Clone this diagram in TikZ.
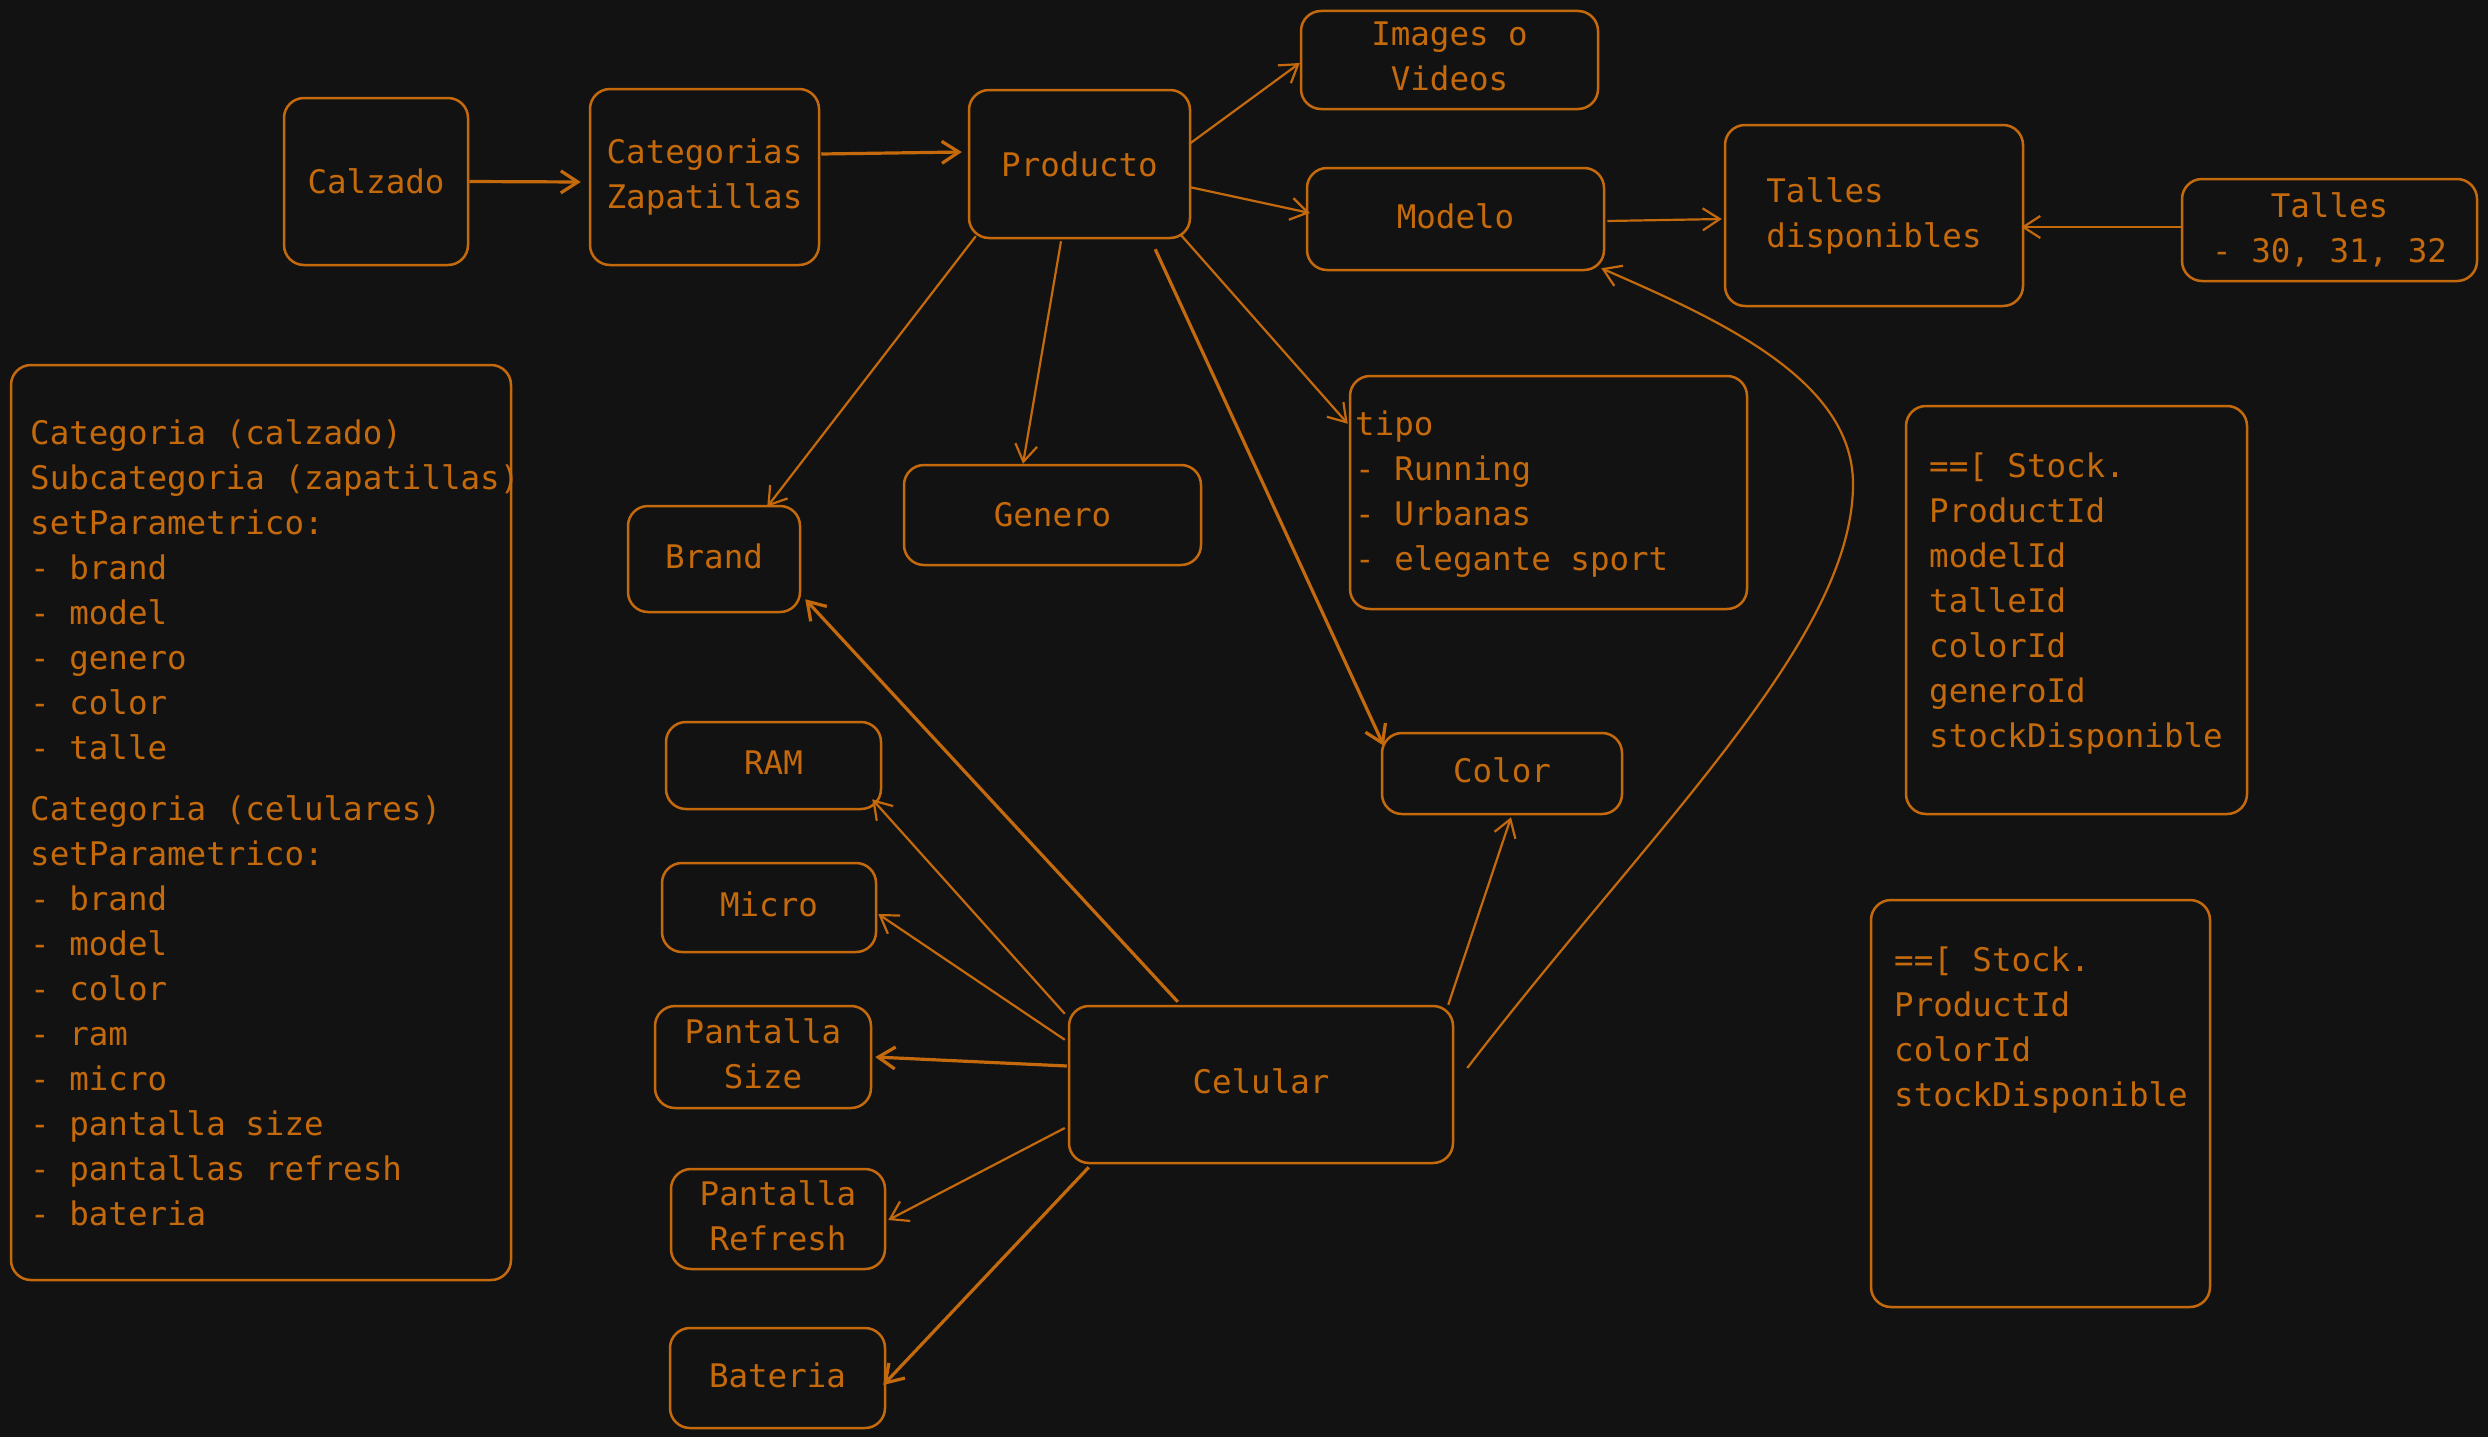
\documentclass[tikz,border=0pt]{standalone}
\usepackage{fontspec}
\newfontfamily\handfont{DejaVu Sans Mono}
\usetikzlibrary{arrows.meta}
\definecolor{bg}{HTML}{121212}
\definecolor{org}{HTML}{C46A0C}
\begin{document}
\begin{tikzpicture}[x=1pt,y=-1pt,
  every node/.style={text=org, font=\handfont\fontsize{32.5}{45}\selectfont},
  box/.style={draw=org, line width=2.5pt, rounded corners=20pt, inner sep=0pt, align=center},
  one/.style={text height=24pt, text depth=6pt},
  lowtail/.style={text depth=7pt},
  txt/.style={anchor=west, inner sep=0pt, align=left},
  conn/.style={draw=org, line width=2.2pt, -{Straight Barb[length=17pt,width=22pt]}},
  heavy/.style={conn, line width=3.2pt}]
\fill[bg] (0,0) rectangle (2488,1437);
\useasboundingbox (0,0) rectangle (2488,1437);

% boxes
\node[box, minimum width=184pt, minimum height=167pt] (calzado) at (376,181.5) {Calzado};
\node[box, minimum width=229pt, minimum height=176pt] (categ) at (704.5,177) {Categorias\\Zapatillas};
\node[box, minimum width=221pt, minimum height=148pt] (producto) at (1079.5,164) {Producto};
\node[box, lowtail, minimum width=297pt, minimum height=98pt] (images) at (1449.5,60) {Images o\\Videos};
\node[box, one, minimum width=297pt, minimum height=102pt] (modelo) at (1455.5,219) {Modelo};
\node[box, minimum width=298pt, minimum height=181pt, align=left] (tallesdisp) at (1874,215.5) {Talles\\disponibles};
\node[box, minimum width=295pt, minimum height=102pt] (tallesnum) at (2329.5,230) {Talles\\- 30, 31, 32};
\node[box, minimum width=500pt, minimum height=915pt] (panel) at (261,822.5) {};
\node[box, minimum width=397pt, minimum height=233pt] (tipo) at (1548.5,492.5) {};
\node[box, minimum width=297pt, minimum height=100pt] (genero) at (1052.5,515) {Genero};
\node[box, one, minimum width=172pt, minimum height=106pt] (brand) at (714,559) {Brand};
\node[box, minimum width=341pt, minimum height=408pt] (stockA) at (2076.5,610) {};
\node[box, minimum width=339pt, minimum height=407pt] (stockB) at (2040.5,1103.5) {};
\node[box, one, minimum width=240pt, minimum height=81pt] (color) at (1502,773.5) {Color};
\node[box, one, minimum width=215pt, minimum height=87pt] (ram) at (773.5,765.5) {RAM};
\node[box, one, minimum width=214pt, minimum height=89pt] (micro) at (769,907.5) {Micro};
\node[box, lowtail, minimum width=216pt, minimum height=102pt] (psize) at (763,1057) {Pantalla\\Size};
\node[box, one, minimum width=384pt, minimum height=157pt] (celular) at (1261,1084.5) {Celular};
\node[box, lowtail, minimum width=214pt, minimum height=100pt] (prefresh) at (778,1219) {Pantalla\\Refresh};
\node[box, one, minimum width=215pt, minimum height=100pt] (bateria) at (777.5,1378) {Bateria};

% texts inside large boxes
\node[txt] (panelA) at (30,589.5) {Categoria (calzado)\\Subcategoria (zapatillas)\\setParametrico:\\- brand\\- model\\- genero\\- color\\- talle};
\node[txt] (panelB) at (30,1011) {Categoria (celulares)\\setParametrico:\\- brand\\- model\\- color\\- ram\\- micro\\- pantalla size\\- pantallas refresh\\- bateria};
\node[txt] (tipotxt) at (1355,494.5) {tipo\\- Running\\- Urbanas\\- elegante sport};
\node[txt] (stockAtxt) at (1929,604) {==[ Stock.\\ProductId\\modelId\\talleId\\colorId\\generoId\\stockDisponible};
\node[txt] (stockBtxt) at (1894,1030.5) {==[ Stock.\\ProductId\\colorId\\stockDisponible};

% connectors
\draw[heavy] (calzado.east) -- ([shift={(-8,5)}]categ.west);
\draw[heavy] ([shift={(1,-23)}]categ.east) -- ([shift={(-6,-12)}]producto.west);
\draw[conn] ([shift={(-2,-20)}]producto.east) -- ([shift={(0,3)}]images.west);
\draw[conn] ([shift={(-2,23)}]producto.east) -- ([shift={(4,-6)}]modelo.west);
\draw[conn] ([shift={(8,-3)}]producto.south west) -- ([shift={(-34,2)}]brand.north east);
\draw[conn] ([shift={(-18.5,2)}]producto.south) -- ([shift={(-29.5,0)}]genero.north);
\draw[conn] ([shift={(-11,-5)}]producto.south east) -- ([shift={(-1,49)}]tipo.north west);
\draw[heavy] ([shift={(-36,10)}]producto.south east) -- ([shift={(3,14)}]color.north west);
\draw[conn] ([shift={(2,2)}]modelo.east) -- ([shift={(-2,3.5)}]tallesdisp.west);
\draw[conn] ([shift={(0,-3)}]tallesnum.west) -- ([shift={(-3,11.5)}]tallesdisp.east);
\draw[conn] ([shift={(13,-16.5)}]celular.east) .. controls (1650,830) and (1853,640) .. (1853,484)
  .. controls (1853,380) and (1720,320) .. ([shift={(-4,-3)}]modelo.south east);
\draw[heavy] ([shift={(110,-3)}]celular.north west) -- ([shift={(4,-14)}]brand.south east);
\draw[conn] ([shift={(-3,9)}]celular.north west) -- ([shift={(-10,-11)}]ram.south east);
\draw[conn] ([shift={(-3,35)}]celular.north west) -- ([shift={(1,6.5)}]micro.east);
\draw[heavy] ([shift={(-1,-18.5)}]celular.west) -- ([shift={(3,0)}]psize.east);
\draw[conn] ([shift={(-3,43.5)}]celular.west) -- ([shift={(2,1)}]prefresh.east);
\draw[heavy] ([shift={(21,3)}]celular.south west) -- ([shift={(-3,7)}]bateria.east);
\draw[conn] ([shift={(-6,0)}]celular.north east) -- ([shift={(9,2)}]color.south);
\end{tikzpicture}
\end{document}
